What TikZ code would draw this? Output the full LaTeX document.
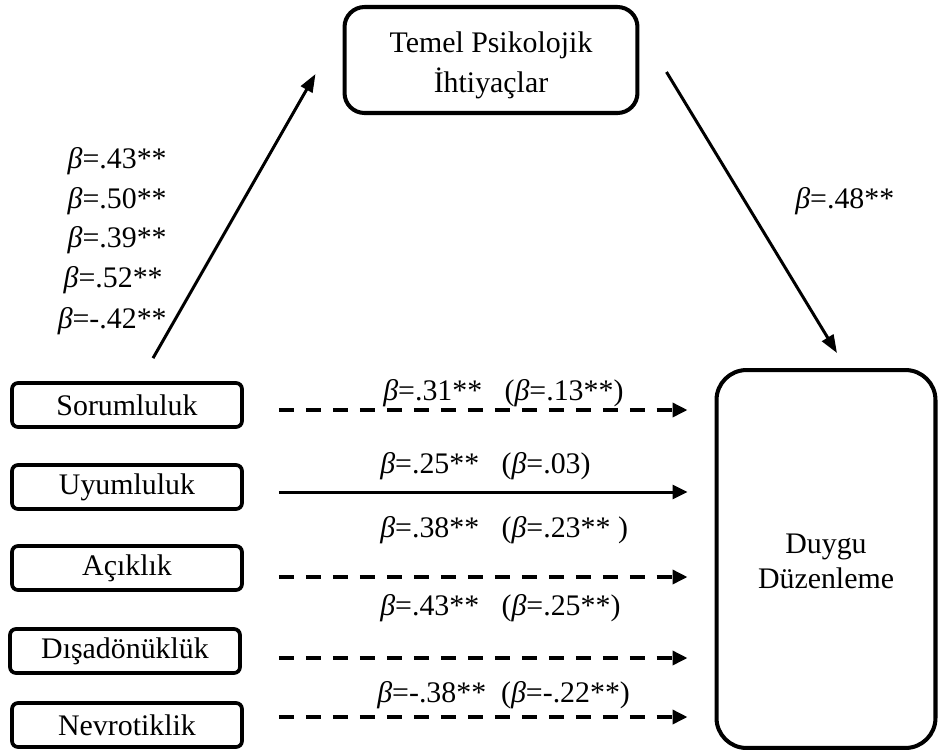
\documentclass[tikz,border=0pt]{standalone}
\usepackage{fontspec}
\setmainfont{Liberation Serif}
\usetikzlibrary{arrows.meta,calc}

\tikzset{
    box/.style={draw, line width=2.1pt, rounded corners=0.12cm, minimum width=4.6cm, minimum height=0.88cm, inner sep=0pt},
    bigbox/.style={draw, line width=2.3pt, align=center, inner sep=0pt},
    txt/.style={font=\fontsize{17pt}{20pt}\selectfont, inner sep=0pt},
    path/.style={line width=1.7pt, -{Triangle[length=0.3cm, width=0.28cm]}, shorten <=0.7cm, shorten >=0.54cm},
    dpath/.style={path, line width=2pt, dash pattern=on 0.3cm off 0.24cm},
    slant/.style={line width=1.7pt, -{Triangle[length=0.36cm, width=0.26cm]}}
}
\newcommand{\bt}{{\itshape β}}

\begin{document}
\begin{tikzpicture}[x=0.02cm, y=-0.02cm, txt]

    \useasboundingbox (0, 0) rectangle (938, 752);

    %% Mediator and outcome

    % Temel Psikolojik Ihtiyaclar
    \node [bigbox, rounded corners=0.4cm, minimum width=5.86cm, minimum height=2.12cm,
           font=\fontsize{17pt}{23pt}\selectfont] (temel) at (491, 60) {\rule{0pt}{0.62cm}Temel Psikolojik\\İhtiyaçlar};

    % Duygu Duzenleme
    \node [bigbox, rounded corners=0.6cm, minimum width=4.38cm, minimum height=7.56cm,
           font=\fontsize{17pt}{20pt}\selectfont] (duygu) at (826, 559) {\rule{0pt}{0.5cm}Duygu\\Düzenleme};

    %% Personality traits
    \node [box] (sor)   at (127, 405) {Sorumluluk};
    \node [box] (uyum)  at (127, 487) {Uyumluluk};
    \node [box] (acik)  at (127, 568) {Açıklık};
    \node [box] (disa)  at (125, 651) {Dışadönüklük};
    \node [box] (nevro) at (127, 725) {Nevrotiklik};

    %% Indirect paths
    \draw [slant] ($(sor.north)+(26, -23)$) -- ($(temel.west)+(-27, 14)$);
    \draw [slant] ($(temel.east)+(27, 12)$) -- ($(duygu.north)+(11, -15)$);

    % a paths
    \node [anchor=base east] (a1) at (167, 168) {\bt=.43**};
    \node [anchor=base east] (a2) at (167, 208) {\bt=.50**};
    \node [anchor=base east] (a3) at (167, 247) {\bt=.39**};
    \node [anchor=base east] (a4) at (163, 287) {\bt=.52**};
    \node [anchor=base east] (a5) at (167, 328) {\bt=-.42**};

    % b path
    \node [anchor=base west] (b1) at (795, 208) {\bt=.48**};

    %% Direct paths
    \draw [dpath] ($(sor.east)+(0, 5)$)   -- ($(sor.east -| duygu.west)+(0, 5)$);
    \draw [path]  ($(uyum.east)+(0, 5)$)  -- ($(uyum.east -| duygu.west)+(0, 5)$);
    \draw [dpath] ($(acik.east)+(0, 9)$)  -- ($(acik.east -| duygu.west)+(0, 9)$);
    \draw [dpath] ($(disa.east)+(2, 7)$)  -- ($(disa.east -| duygu.west)+(0, 7)$);
    \draw [dpath] ($(nevro.east)+(0, -8)$) -- ($(nevro.east -| duygu.west)+(0, -8)$);

    % c and c' values
    \node [anchor=base west] (c1) at (383, 400) {\bt=.31**~~~(\bt=.13**)};
    \node [anchor=base west] (c2) at (380, 473) {\bt=.25**~~~(\bt=.03)};
    \node [anchor=base west] (c3) at (380, 537) {\bt=.38**~~~(\bt=.23**~)};
    \node [anchor=base west] (c4) at (380, 615) {\bt=.43**~~~(\bt=.25**)};
    \node [anchor=base west] (c5) at (377, 702) {\bt=-.38**~~(\bt=-.22**)};

\end{tikzpicture}
\end{document}
